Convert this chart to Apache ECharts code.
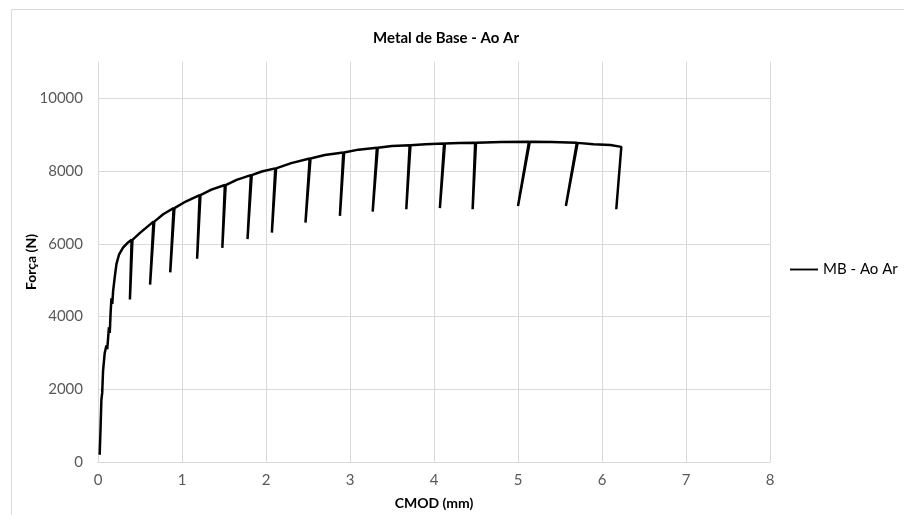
<!DOCTYPE html>
<html>
<head>
<meta charset="utf-8">
<script src="https://cdn.jsdelivr.net/npm/echarts@6/dist/echarts.min.js"></script>
<style>
html,body{margin:0;padding:0;background:#fff;}
#chart{width:904px;height:515px;}
</style>
</head>
<body>
<div id="chart"></div>
<script>
const chartTitle = 'Metal de Base - Ao Ar';
const seriesName = 'MB - Ao Ar';
const xAxisTitle = 'CMOD (mm)';
const yAxisTitle = 'Força (N)';

const cmod = [0.02,0.03,0.04,0.05,0.06,0.08,0.10,0.11,0.12,0.13,0.14,0.15,0.16,0.17,0.18,0.20,0.22,0.25,0.30,0.35,
  0.40,0.38,0.41, 0.50, 0.66,0.62,0.67, 0.78, 0.90,0.86,0.91, 1.05, 1.21,1.18,1.22, 1.35, 1.51,1.48,1.52, 1.65,
  1.82,1.78,1.83, 1.95, 2.11,2.07,2.12, 2.30, 2.52,2.47,2.53, 2.70, 2.92,2.88,2.93, 3.10, 3.32,3.27,3.33, 3.50,
  3.71,3.67,3.72, 3.90, 4.12,4.07,4.13, 4.30, 4.49,4.46,4.50, 4.80, 5.13,5.00,5.14, 5.40, 5.70,5.57,5.71, 5.90,
  6.10, 6.23, 6.17];
const force = [200,900,1700,1900,2500,3000,3200,3100,3400,3700,3550,4100,4500,4350,4700,5100,5450,5700,5900,6020,
  6110,4470,6110, 6300, 6610,4880,6610, 6820, 6980,5215,6980, 7170, 7342,5590,7342, 7490, 7616,5890,7616, 7760,
  7890,6130,7890, 7990, 8074,6310,8074, 8220, 8348,6585,8348, 8440, 8512,6770,8512, 8590, 8640,6885,8640, 8690,
  8712,6950,8712, 8740, 8758,6980,8758, 8770, 8776,6950,8776, 8800, 8804,7040,8804, 8800, 8776,7040,8776, 8740,
  8720, 8666, 6950];

const points = cmod.map((x, i) => [x, force[i]]);
const FONT = 'Lato';

const chart = echarts.init(document.getElementById('chart'), null, {renderer: 'canvas'});
chart.setOption({
  animation: false,
  backgroundColor: '#ffffff',
  graphic: [{
    type: 'rect', left: 9, top: 7, silent: true,
    shape: {x: 0, y: 0, width: 1000, height: 1000},
    style: {fill: 'none', stroke: '#d9d9d9', lineWidth: 1}
  }],
  title: {
    text: chartTitle, left: 441, top: 26, textAlign: 'center',
    textStyle: {fontFamily: FONT, fontSize: 15, fontWeight: 'bold', color: '#000'}
  },
  legend: {
    orient: 'vertical', left: 785, top: 257,
    itemWidth: 28, itemHeight: 14, itemGap: 5,
    textStyle: {fontFamily: FONT, fontSize: 15, color: '#000'},
    data: [{name: seriesName, icon: 'path://M0,0 L30,0 L30,2 L0,2 Z'}]
  },
  grid: {left: 98, right: 134, top: 62, bottom: 52, containLabel: false},
  xAxis: {
    type: 'value', min: 0, max: 8, interval: 1,
    name: xAxisTitle, nameLocation: 'middle', nameGap: 34,
    nameTextStyle: {fontFamily: FONT, fontSize: 14, fontWeight: 'bold', color: '#000'},
    axisLine: {show: true, lineStyle: {color: '#d9d9d9', width: 1}},
    axisTick: {show: false},
    axisLabel: {fontFamily: FONT, fontSize: 15, color: '#595959', margin: 11},
    splitLine: {show: true, lineStyle: {color: '#d9d9d9', width: 1}}
  },
  yAxis: {
    type: 'value', min: 0, max: 11000, interval: 2000,
    name: yAxisTitle, nameLocation: 'middle', nameGap: 60, nameRotate: 90, nameMoveOverlap: false,
    nameTextStyle: {fontFamily: FONT, fontSize: 14, fontWeight: 'bold', color: '#000'},
    axisLine: {show: false},
    axisTick: {show: false},
    axisLabel: {fontFamily: FONT, fontSize: 15, color: '#595959', margin: 15, showMaxLabel: false,
      formatter: v => String(v)},
    splitLine: {show: true, showMaxLine: false, lineStyle: {color: '#d9d9d9', width: 1}}
  },
  series: [{
    name: seriesName, type: 'line', data: points,
    showSymbol: false, symbol: 'none', smooth: false,
    lineStyle: {color: '#000', width: 2.5},
    itemStyle: {color: '#000'}
  }]
});
</script>
</body>
</html>
